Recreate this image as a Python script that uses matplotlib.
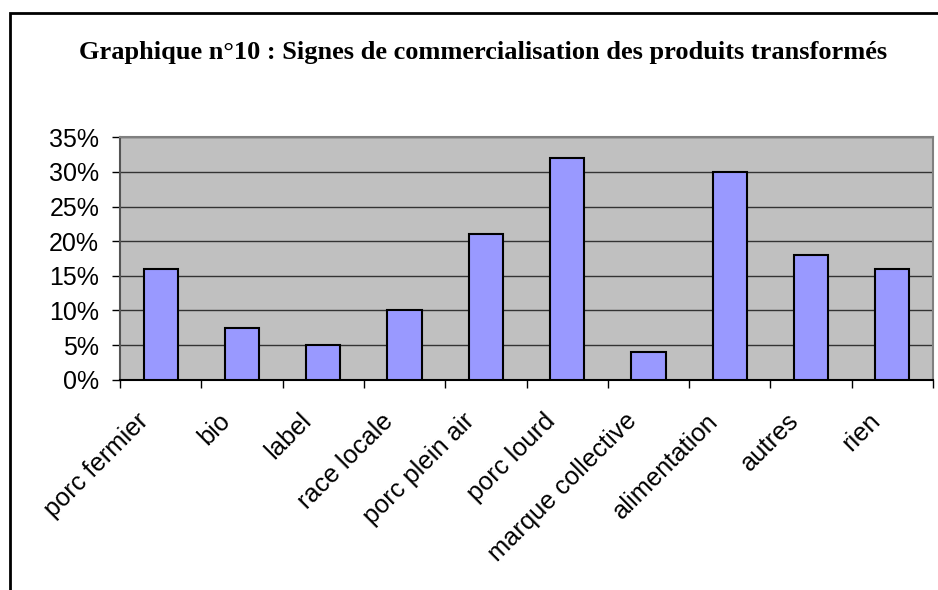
import matplotlib.pyplot as plt
from matplotlib.patches import Rectangle
from matplotlib.ticker import FuncFormatter, FixedLocator, NullFormatter
from matplotlib.transforms import ScaledTranslation

categories = ["porc fermier", "bio", "label", "race locale", "porc plein air",
              "porc lourd", "marque collective", "alimentation", "autres", "rien"]
values = [16, 7.5, 5, 10, 21, 32, 4, 30, 18, 16]   # en %
yticks = [0, 5, 10, 15, 20, 25, 30, 35]

W, H = 938, 590
fig = plt.figure(figsize=(W / 100, H / 100), dpi=100)

# cadre noir autour du graphique
fig.add_artist(Rectangle((10 / W, -0.1), 1.5, (1 - 13 / H) + 0.1,
                         transform=fig.transFigure, fill=False, lw=2, ec="black"))

fig.text(483 / W, 1 - 53 / H,
         "Graphique n°10 : Signes de commercialisation des produits transformés",
         ha="center", va="center", fontsize=19, fontweight="bold",
         family="Liberation Serif")

left, right, top, bottom = 120, 933, 137.3, 379.7
ax = fig.add_axes([left / W, 1 - bottom / H, (right - left) / W, (bottom - top) / H])
ax.set_facecolor("#C0C0C0")

x = list(range(len(categories)))
ax.bar(x, values, width=0.42, color="#9999FF", edgecolor="black", linewidth=1.5, zorder=3)

ax.set_xlim(-0.5, len(categories) - 0.5)
ax.set_ylim(0, 35)
ax.set_yticks(yticks)
ax.yaxis.set_major_formatter(FuncFormatter(lambda v, p: f"{v:.0f}%"))
ax.yaxis.grid(True, color="#333333", linewidth=1, zorder=1)

# ticks entre les catégories
ax.xaxis.set_major_locator(FixedLocator([i - 0.5 for i in range(len(categories) + 1)]))
ax.xaxis.set_major_formatter(NullFormatter())
ax.tick_params(axis="x", length=6, width=1, direction="out")
ax.tick_params(axis="y", length=6, width=1, direction="out", pad=9)
for lbl in ax.get_yticklabels():
    lbl.set_family("Liberation Sans")
    lbl.set_fontsize(18)

# étiquettes inclinées à 45°, coin haut-droit près du centre de la catégorie
off = ScaledTranslation(-24 / 100, -29 / 100, fig.dpi_scale_trans)
for xi, name in zip(x, categories):
    ax.text(xi, 0, name, rotation=45, ha="right", va="top", rotation_mode="anchor",
            family="Liberation Sans", fontsize=18.3,
            transform=ax.get_xaxis_transform() + off)

for s in ["top", "right"]:
    ax.spines[s].set_color("#808080")
    ax.spines[s].set_linewidth(1.5)
ax.spines["left"].set_color("#555555")
ax.spines["left"].set_linewidth(1.5)
ax.spines["bottom"].set_color("black")
ax.spines["bottom"].set_linewidth(1.5)

fig.savefig("out.png", dpi=100)
